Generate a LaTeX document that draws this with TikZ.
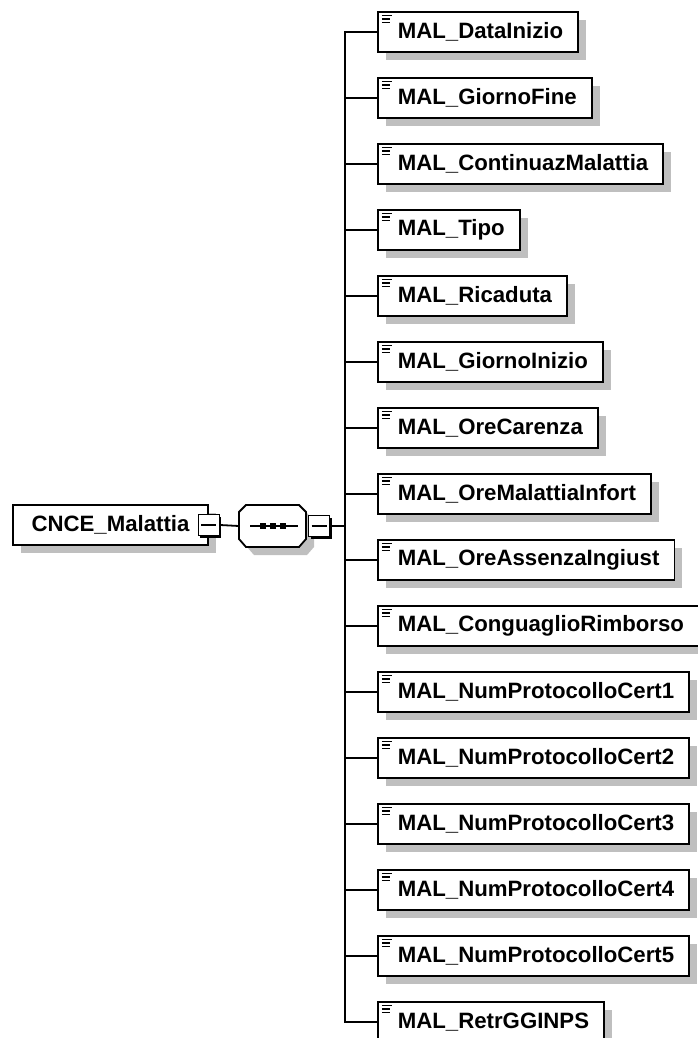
\documentclass[tikz,border=0pt]{standalone}
\usepackage{fontspec}
\setmainfont{Liberation Sans}
\usetikzlibrary{shadows}
\begin{document}
\begin{tikzpicture}[x=1pt, y=-1pt]
	    \tikzset{
	      conn/.style={line width=1.8pt},
	      elem/.style={draw, line width=1.8pt, fill=white, anchor=west,
	        minimum height=40, inner xsep=15, inner ysep=0,
	        font=\fontsize{22.2}{26}\selectfont\bfseries,
	        execute at begin node={\kern5pt},
	        drop shadow={shadow xshift=8pt, shadow yshift=-8pt, fill=black!25, opacity=1},
	        path picture={
	          \draw[line width=1.4pt] ([shift={(4,3.5)}]path picture bounding box.north west) -- ++(10,0);
	          \draw[line width=1.4pt] ([shift={(4,7)}]path picture bounding box.north west) -- ++(8,0);
	          \draw[line width=1.4pt] ([shift={(4,10.5)}]path picture bounding box.north west) -- ++(8,0);
	        }},
	      rootbox/.style={draw, line width=1.8pt, fill=white, minimum width=195,
	        minimum height=40, inner sep=0,
	        font=\fontsize{22.2}{26}\selectfont\bfseries,
	        drop shadow={shadow xshift=8pt, shadow yshift=-8pt, fill=black!25, opacity=1}},
	      minus/.style={draw, line width=1.8pt, fill=white, minimum size=21, inner sep=0,
	        drop shadow={shadow xshift=2pt, shadow yshift=-2pt, fill=black, opacity=1},
	        path picture={
	          \draw[line width=1.4pt] ([xshift=3]path picture bounding box.west) -- ([xshift=-3]path picture bounding box.east);
	        }}
	    }
	    \useasboundingbox (0,0) rectangle (697,1038);
	    % root element
	    \node[rootbox] (root) at (110.5,525) {CNCE\_Malattia};
	    \node[minus] (rm) at (root.east) {};
	    % sequence compositor
	    \fill[black!25, shift={(8,8)}] (246,505) -- (299,505) -- (306,512) -- (306,539) -- (299,547) -- (246,547) -- (239,539) -- (239,512) -- cycle;
	    \filldraw[fill=white, line width=1.8pt] (246,505) -- (299,505) -- (306,512) -- (306,539) -- (299,547) -- (246,547) -- (239,539) -- (239,512) -- cycle;
	    \node[minimum width=67, minimum height=42, inner sep=0] (seq) at (272.5,526) {};
	    \draw[line width=1.8pt] (250,526) -- (298,526);
	    \fill (260,523) rectangle (266,529);
	    \fill (270,523) rectangle (276,529);
	    \fill (280,523) rectangle (286,529);
	    \node[minus] (sm) at (319,526) {};
	    \coordinate (bus) at (345,526);
	    \draw[conn] (rm.east) -- (seq.west);
	    \draw[conn] (sm.east) -- (bus);
	    % children
	    \node[elem] (c1) at (377,32) {MAL\_DataInizio};
	    \node[elem] (c2) at (377,98) {MAL\_GiornoFine};
	    \node[elem] (c3) at (377,164) {MAL\_ContinuazMalattia};
	    \node[elem] (c4) at (377,230) {MAL\_Tipo};
	    \node[elem] (c5) at (377,296) {MAL\_Ricaduta};
	    \node[elem] (c6) at (377,362) {MAL\_GiornoInizio};
	    \node[elem] (c7) at (377,428) {MAL\_OreCarenza};
	    \node[elem] (c8) at (377,494) {MAL\_OreMalattiaInfort};
	    \node[elem] (c9) at (377,560) {MAL\_OreAssenzaIngiust};
	    \node[elem] (c10) at (377,626) {MAL\_ConguaglioRimborso};
	    \node[elem] (c11) at (377,692) {MAL\_NumProtocolloCert1};
	    \node[elem] (c12) at (377,758) {MAL\_NumProtocolloCert2};
	    \node[elem] (c13) at (377,824) {MAL\_NumProtocolloCert3};
	    \node[elem] (c14) at (377,890) {MAL\_NumProtocolloCert4};
	    \node[elem] (c15) at (377,956) {MAL\_NumProtocolloCert5};
	    \node[elem] (c16) at (377,1022) {MAL\_RetrGGINPS};
	    \draw[conn] (bus) |- (c1.west);
	    \draw[conn] (bus) |- (c2.west);
	    \draw[conn] (bus) |- (c3.west);
	    \draw[conn] (bus) |- (c4.west);
	    \draw[conn] (bus) |- (c5.west);
	    \draw[conn] (bus) |- (c6.west);
	    \draw[conn] (bus) |- (c7.west);
	    \draw[conn] (bus) |- (c8.west);
	    \draw[conn] (bus) |- (c9.west);
	    \draw[conn] (bus) |- (c10.west);
	    \draw[conn] (bus) |- (c11.west);
	    \draw[conn] (bus) |- (c12.west);
	    \draw[conn] (bus) |- (c13.west);
	    \draw[conn] (bus) |- (c14.west);
	    \draw[conn] (bus) |- (c15.west);
	    \draw[conn] (bus) |- (c16.west);
\end{tikzpicture}
\end{document}
